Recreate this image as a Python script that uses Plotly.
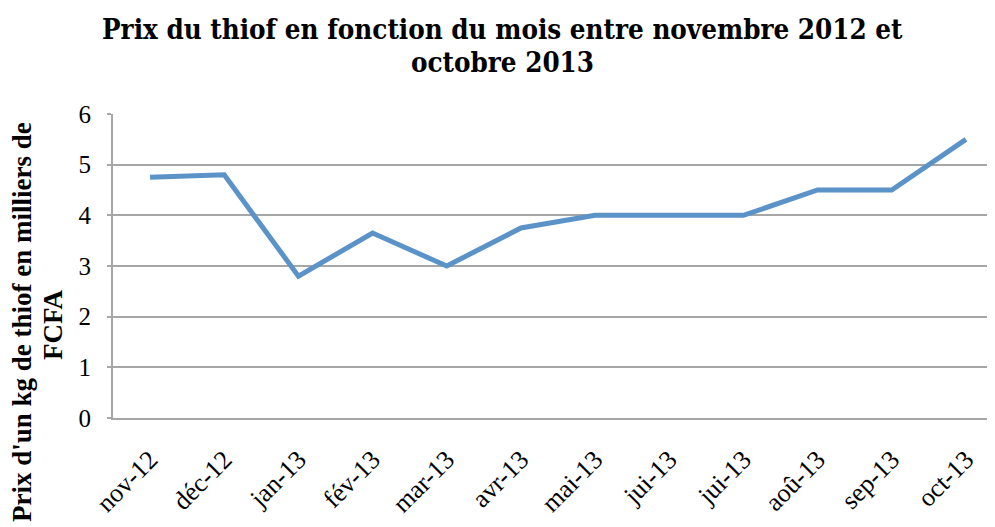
import plotly.graph_objects as go

months = ["nov-12", "déc-12", "jan-13", "fév-13", "mar-13", "avr-13",
          "mai-13", "jui-13", "jui-13", "aoû-13", "sep-13", "oct-13"]
prices = [4.75, 4.8, 2.8, 3.65, 3.0, 3.75, 4.0, 4.0, 4.0, 4.5, 4.5, 5.5]
y_ticks = [0, 1, 2, 3, 4, 5, 6]

positions = list(range(len(months)))

# page has an 8px body margin; work in screen pixels and compensate
OFF = 8
W, H = 995, 527
L, R, T, B = 113 - OFF, 0, 114 - OFF, H - (418 - OFF)
PW, PH = W - L - R, H - T - B

TITLE_FONT = "DejaVu Serif Condensed, DejaVu Serif, Liberation Serif"


def px(x):
    return (x - OFF - L) / PW


def py(y):
    return (H - B - (y - OFF)) / PH


def label(text, x, y, size, family, angle=0):
    return dict(text=text, xref="paper", yref="paper", x=px(x), y=py(y),
                xanchor="center", yanchor="middle", showarrow=False,
                textangle=angle,
                font=dict(family=family, size=size, color="black"))


fig = go.Figure()
fig.add_trace(go.Scatter(
    x=positions, y=prices, mode="lines",
    line=dict(color="#5B93C9", width=5),
    showlegend=False,
))

fig.update_layout(
    width=W, height=H,
    paper_bgcolor="white", plot_bgcolor="white",
    margin=dict(l=L, r=R, t=T, b=B, autoexpand=False),
    font=dict(family="Liberation Serif", color="black"),
    annotations=[
        label("<b>Prix du thiof en fonction du mois entre novembre 2012 et</b>", 502, 29, 27.5, TITLE_FONT),
        label("<b>octobre 2013</b>", 502, 62, 27.5, TITLE_FONT),
        label("<b>Prix d'un kg de thiof en milliers de</b>", 22, 322, 27, "Liberation Serif", -90),
        label("<b>FCFA</b>", 53, 325, 27, "Liberation Serif", -90),
    ],
)

fig.update_xaxes(
    range=[-0.5, 11.5],
    tickmode="array", tickvals=positions, ticktext=months,
    tickangle=-45, tickfont=dict(size=26, family="Liberation Serif"),
    ticklabelstandoff=14,
    showgrid=False, zeroline=False, ticks="", automargin=False,
    showline=True, linecolor="#A6A6A6", linewidth=2,
)
fig.update_yaxes(
    range=[0, 6], tickmode="array", tickvals=y_ticks,
    tickfont=dict(size=25, family="Liberation Serif"),
    ticklabelstandoff=11,
    showgrid=True, gridcolor="#A6A6A6", gridwidth=2,
    showline=True, linecolor="#A6A6A6", linewidth=2,
    ticks="outside", ticklen=4, tickcolor="#A6A6A6", tickwidth=2,
    zeroline=False, automargin=False,
)

fig.write_html("out.html")
